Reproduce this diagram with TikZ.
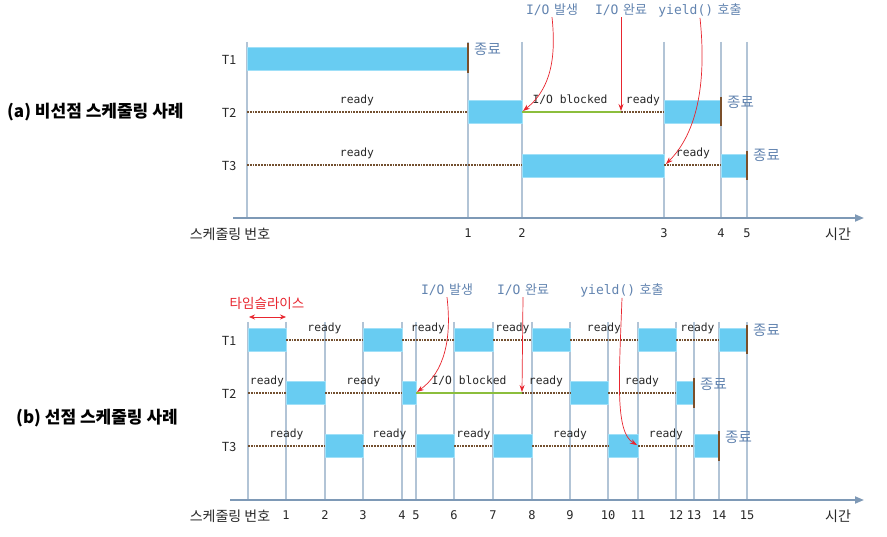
\documentclass[tikz,border=0pt]{standalone}
\usepackage{fontspec}
\setmainfont{Noto Sans CJK KR}
\newfontfamily\monof{DejaVu Sans Mono}
\usetikzlibrary{arrows.meta}
\definecolor{barblue}{RGB}{104,204,242}
\definecolor{baredge}{RGB}{160,224,248}
\definecolor{gridc}{RGB}{178,196,214}
\definecolor{axisc}{RGB}{126,153,182}
\definecolor{dotc}{RGB}{115,80,48}
\definecolor{endc}{RGB}{123,79,42}
\definecolor{greenc}{RGB}{140,190,60}
\definecolor{lblue}{RGB}{98,132,176}
\definecolor{redc}{RGB}{232,38,47}
\definecolor{txtc}{RGB}{40,40,40}
\tikzset{
  gridline/.style={draw=gridc, line width=1.5pt},
  axisline/.style={draw=axisc, line width=1.8pt, -{Triangle[length=9pt,width=7pt]}},
  runbar/.style={fill=barblue, draw=baredge, line width=0.8pt},
  readyline/.style={draw=dotc, line width=2.4pt, dash pattern=on 1.8pt off 1.0pt},
  blockline/.style={draw=greenc, line width=2.4pt},
  endmark/.style={draw=endc, line width=2.4pt},
  readytxt/.style={font=\monof\fontsize{11.3}{13}\selectfont, text=txtc, inner sep=0pt},
  endtxt/.style={font=\fontsize{14.5}{16}\selectfont, text=lblue, anchor=west, inner sep=0pt},
  evtxt/.style={font=\fontsize{13}{15}\selectfont, text=lblue, inner sep=1pt},
  rowlbl/.style={font=\fontsize{12.5}{14}\selectfont, text=txtc, inner sep=0pt},
  numlbl/.style={font=\monof\fontsize{12}{14}\selectfont, text=txtc, inner sep=0pt},
  axlbl/.style={font=\fontsize{14}{16}\selectfont, text=txtc, inner sep=0pt},
  titletxt/.style={font=\bfseries\fontsize{17}{20}\selectfont, text=black, anchor=west, inner sep=0pt},
  redarr/.style={draw=redc, line width=0.7pt, -{Stealth[length=7pt,width=5pt]}},
}
\newcommand\gapsp{\hspace{0.35em}}
\begin{document}
\begin{tikzpicture}[x=1pt,y=-1pt]
\useasboundingbox[fill=white] (0,0) rectangle (887,537);

% ================= (a) =================
\node[titletxt] (ta) at (7,112) {(a) 비선점 스케줄링 사례};
\foreach \x/\n in {247/0,468/1,522/2,664/3,721/4,747/5}
  \draw[gridline] (\x,42) -- (\x,218);
\coordinate (axa0) at (233,218);
\coordinate (axa1) at (864,218);
\draw[axisline] (axa0) -- (axa1);
\node[axlbl] (axna) at (230,234) {스케줄링 번호};
\node[axlbl] (axta) at (838,234) {시간};
\foreach \x/\n in {468/1,522/2,664/3,721/4,747/5}
  \node[numlbl] (na\n) at (\x,233) {\n};
\node[rowlbl] (a1) at (229,60) {T1};
\node[rowlbl] (a2) at (229,113) {T2};
\node[rowlbl] (a3) at (229,166) {T3};
% T1
\path[runbar] (247,47) rectangle (468,70);
\draw[endmark] (468,43) -- (468,73);
\node[endtxt] (ea1) at (474,49) {종료};
% T2
\draw[readyline] (247,112) -- (468,112);
\node[readytxt] (ra21) at (357,100) {ready};
\path[runbar] (468,100.5) rectangle (522,123.5);
\draw[blockline] (522,112) -- (621,112);
\node[readytxt] (ba2) at (570,100) {I/O blocked};
\draw[readyline] (621,112) -- (664,112);
\node[readytxt] (ra22) at (643,100) {ready};
\path[runbar] (664,100.5) rectangle (721,123.5);
\draw[endmark] (721,97) -- (721,126);
\node[endtxt] (ea2) at (727,102) {종료};
% T3
\draw[readyline] (247,165) -- (522,165);
\node[readytxt] (ra31) at (357,153) {ready};
\path[runbar] (522,154) rectangle (664,177);
\draw[readyline] (664,165) -- (721,165);
\node[readytxt] (ra32) at (693,153) {ready};
\path[runbar] (721,154) rectangle (747,177);
\draw[endmark] (747,151) -- (747,180);
\node[endtxt] (ea3) at (753,155) {종료};
% events
\node[evtxt] (eva1) at (552,10) {{\monof I/O}\gapsp{}발생};
\node[evtxt] (eva2) at (621,10) {{\monof I/O}\gapsp{}완료};
\node[evtxt] (eva3) at (700,10) {{\monof yield()}\gapsp{}호출};
\coordinate (tga1) at (523,111);
\coordinate (tga2) at (621,111);
\coordinate (tga3) at (666,164);
\draw[redarr] (eva1.south) .. controls (556,55) and (552,88) .. (tga1);
\draw[redarr] (eva2.south) -- (tga2);
\draw[redarr] (eva3.south) .. controls (708,95) and (692,138) .. (tga3);

% ================= (b) =================
\node[titletxt] (tb) at (16,418) {(b) 선점 스케줄링 사례};
\foreach \x in {248,286,325,363,402,416,454,493,532,570,608,638,676,694,719,747}
  \draw[gridline] (\x,322) -- (\x,500);
\coordinate (axb0) at (230,500);
\coordinate (axb1) at (864,500);
\draw[axisline] (axb0) -- (axb1);
\node[axlbl] (axnb) at (230,516) {스케줄링 번호};
\node[axlbl] (axtb) at (838,516) {시간};
\foreach \x/\n in {286/1,325/2,363/3,402/4,416/5,454/6,493/7,532/8,570/9,608/10,638/11,676/12,694/13,719/14,747/15}
  \node[numlbl] (nb\n) at (\x,515) {\n};
\node[rowlbl] (b1) at (229,341) {T1};
\node[rowlbl] (b2) at (229,394) {T2};
\node[rowlbl] (b3) at (229,447) {T3};
% T1 row (y=340)
\foreach \a/\b in {248/286,363/402,454/493,532/570,638/676,719/747}
  \path[runbar] (\a,328.5) rectangle (\b,351.5);
\foreach \a/\b [count=\i] in {286/363,402/454,493/532,570/638,676/719}{
  \draw[readyline] (\a,340) -- (\b,340);
  \node[readytxt] (rb1\i) at ({(\a+\b)/2},328) {ready};
}
\draw[endmark] (747,325) -- (747,354);
\node[endtxt] (eb1) at (753,330) {종료};
% T2 row (y=393)
\foreach \a/\b in {286/325,402/416,570/608,676/694}
  \path[runbar] (\a,381.5) rectangle (\b,404.5);
\foreach \a/\b [count=\i] in {248/286,325/402,522/570,608/676}{
  \draw[readyline] (\a,393) -- (\b,393);
  \node[readytxt] (rb2\i) at ({(\a+\b)/2},381) {ready};
}
\draw[blockline] (416,393) -- (522,393);
\node[readytxt] (bb2) at (469,381) {I/O blocked};
\draw[endmark] (694,378) -- (694,408);
\node[endtxt] (eb2) at (700,384) {종료};
% T3 row (y=446)
\foreach \a/\b in {325/363,416/454,493/532,608/638,694/719}
  \path[runbar] (\a,434.5) rectangle (\b,457.5);
\foreach \a/\b [count=\i] in {248/325,363/416,454/493,532/608,638/694}{
  \draw[readyline] (\a,446) -- (\b,446);
  \node[readytxt] (rb3\i) at ({(\a+\b)/2},434) {ready};
}
\draw[endmark] (719,431) -- (719,461);
\node[endtxt] (eb3) at (725,437) {종료};
% time slice
\node[font=\fontsize{13.5}{15}\selectfont, text=redc, inner sep=0pt] (tsl) at (267,303) {타임슬라이스};
\coordinate (ts0) at (249,317);
\coordinate (ts1) at (286,317);
\draw[draw=redc, line width=0.7pt, {Stealth[length=6pt,width=5pt]}-{Stealth[length=6pt,width=5pt]}] (ts0) -- (ts1);
% events
\node[evtxt] (evb1) at (447,290) {{\monof I/O}\gapsp{}발생};
\node[evtxt] (evb2) at (523,290) {{\monof I/O}\gapsp{}완료};
\node[evtxt] (evb3) at (622,290) {{\monof yield()}\gapsp{}호출};
\coordinate (tgb1) at (417,392);
\coordinate (tgb2) at (522,392);
\coordinate (tgb3) at (637,445);
\draw[redarr] (evb1.south) .. controls (452,340) and (444,372) .. (tgb1);
\draw[redarr] (evb2.south) -- (tgb2);
\draw[redarr] (evb3.south) .. controls (619,380) and (615,432) .. (tgb3);
\end{tikzpicture}
\end{document}
